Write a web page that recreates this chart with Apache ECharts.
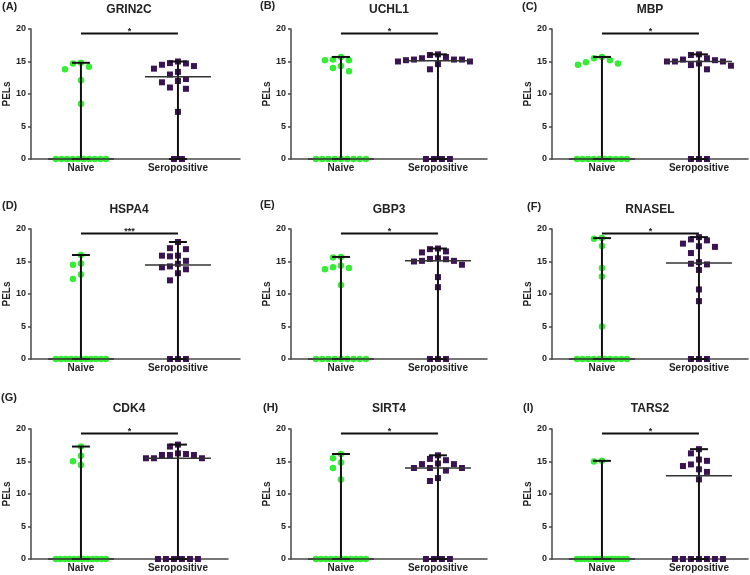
<!DOCTYPE html>
<html>
<head>
<meta charset="utf-8">
<script src="https://cdn.jsdelivr.net/npm/echarts@6/dist/echarts.min.js"></script>
<style>
html,body{margin:0;padding:0;background:#fff;}
#chart{width:750px;height:575px;}
</style>
</head>
<body>
<div id="chart"></div>
<script>
// ---------- DATA ----------
const categories = ['Naive', 'Seropositive'];
const genes = ['GRIN2C', 'UCHL1', 'MBP', 'HSPA4', 'GBP3', 'RNASEL', 'CDK4', 'SIRT4', 'TARS2'];
const panelLetters = ['(A)', '(B)', '(C)', '(D)', '(E)', '(F)', '(G)', '(H)', '(I)'];
const sigLabels = ['*', '*', '*', '***', '*', '*', '*', '*', '*'];
const yTickMin = 0, yTickMax = 20, yTickStep = 5;
const sigLevel = 19.3;

const grin2cNaive = [14.8, 14.7, 14.2, 13.8, 12.1, 8.5, 0, 0, 0, 0, 0, 0, 0, 0, 0, 0];
const grin2cSero  = [15.0, 14.75, 14.7, 14.5, 14.3, 13.9, 13.4, 13.0, 12.3, 12.0, 11.8, 11.0, 10.8, 7.25, 0, 0];
const uchl1Naive  = [15.7, 15.3, 15.2, 15.2, 14.3, 14.0, 13.5, 0, 0, 0, 0, 0, 0, 0, 0, 0];
const uchl1Sero   = [16.1, 16.0, 15.7, 15.5, 15.3, 15.3, 15.3, 15.2, 15.0, 15.0, 14.6, 13.8, 0, 0, 0, 0];
const mbpNaive    = [15.7, 15.5, 15.2, 14.9, 14.7, 14.5, 0, 0, 0, 0, 0, 0, 0, 0, 0, 0];
const mbpSero     = [16.1, 16.0, 15.5, 15.3, 15.2, 15.0, 15.0, 15.0, 14.7, 14.45, 14.35, 13.8, 0, 0, 0];
const hspa4Naive  = [16.0, 14.7, 14.5, 13.0, 12.3, 0, 0, 0, 0, 0, 0, 0, 0, 0, 0, 0];
const hspa4Sero   = [18.0, 17.05, 16.9, 15.9, 15.9, 15.8, 15.1, 14.65, 14.25, 14.1, 13.8, 13.2, 12.1, 0, 0, 0];
const gbp3Naive   = [15.7, 15.6, 14.4, 14.1, 14.0, 13.8, 11.4, 0, 0, 0, 0, 0, 0, 0, 0, 0];
const gbp3Sero    = [17.0, 16.9, 16.55, 16.4, 15.5, 15.4, 15.35, 15.1, 15.1, 15.0, 14.5, 12.6, 11.05, 0, 0, 0];
const rnaselNaive = [18.6, 18.5, 17.4, 14.0, 12.7, 5.0, 0, 0, 0, 0, 0, 0, 0, 0, 0, 0];
const rnaselSero  = [18.75, 18.4, 18.25, 17.75, 17.35, 17.25, 16.3, 14.9, 14.65, 14.55, 13.7, 10.7, 8.9, 0, 0, 0];
const cdk4Naive   = [17.3, 15.9, 15.05, 14.45, 0, 0, 0, 0, 0, 0, 0, 0, 0, 0, 0, 0];
const cdk4Sero    = [17.6, 17.3, 16.25, 16.15, 16.0, 16.0, 16.0, 15.5, 15.5, 15.5, 0, 0, 0, 0, 0, 0];
const sirt4Naive  = [16.15, 15.5, 14.85, 14.0, 12.25, 0, 0, 0, 0, 0, 0, 0, 0, 0, 0, 0];
const sirt4Sero   = [15.95, 15.4, 15.2, 14.7, 14.6, 14.6, 14.0, 14.0, 14.0, 13.6, 12.45, 12.0, 0, 0, 0, 0];
const tars2Naive  = [15.1, 15.0, 0, 0, 0, 0, 0, 0, 0, 0, 0, 0, 0, 0, 0, 0];
const tars2Sero   = [16.9, 16.25, 15.3, 15.1, 14.55, 14.3, 13.8, 13.4, 12.25, 0, 0, 0, 0, 0, 0, 0];

const naiveGroups = [grin2cNaive, uchl1Naive, mbpNaive, hspa4Naive, gbp3Naive, rnaselNaive, cdk4Naive, sirt4Naive, tars2Naive];
const seroGroups  = [grin2cSero, uchl1Sero, mbpSero, hspa4Sero, gbp3Sero, rnaselSero, cdk4Sero, sirt4Sero, tars2Sero];

// ---------- LAYOUT ----------
const colLeft = [31, 291, 552];
const rowTop = [29, 229, 429];
const panelWidth = [209, 196, 196, 209, 196, 196, 197, 196, 196];
const gridH = 130;
const pxPerUnitX = 97;
const xMin = 0.485;
const titleTop = [4, 4, 4, 204, 204, 204, 403, 403, 403];
const letterPos = [[2, 1], [260, 0], [522, 1], [2, 200], [260, 199], [527, 201], [1, 392], [263, 402], [523, 402]];

const FONT = '"Liberation Sans", Arial, sans-serif';
const GREEN = '#33EE33';
const PURPLE = '#3A1352';

function median(arr) {
  const s = arr.slice().sort((a, b) => a - b);
  const n = s.length;
  return n % 2 ? s[(n - 1) / 2] : (s[n / 2 - 1] + s[n / 2]) / 2;
}

// beeswarm spread (pixel based), returns [x, y] pairs in data units
function swarm(vals, center, pxY) {
  const out = [];
  const zeros = vals.filter(v => v === 0);
  const nz = vals.filter(v => v !== 0).sort((a, b) => b - a);
  const n = zeros.length;
  const step0 = n > 1 ? Math.min(8, 50 / (n - 1)) : 0;
  zeros.forEach((v, i) => out.push([center + ((i - (n - 1) / 2) * step0) / pxPerUnitX, 0]));
  const placed = [];
  const step = 8, minD = 7.8;
  const order = [0, -1, 1, -2, 2, -3, 3, -4, 4, -5, 5];
  nz.forEach(v => {
    const y = v * pxY;
    for (const k of order) {
      const x = k * step;
      let ok = true;
      for (const p of placed) {
        const dx = p[0] - x, dy = p[1] - y;
        if (dx * dx + dy * dy < minD * minD) { ok = false; break; }
      }
      if (ok) { placed.push([x, y]); out.push([center + x / pxPerUnitX, v]); return; }
    }
    placed.push([0, y]); out.push([center, v]);
  });
  return out;
}

const grids = [], xAxes = [], yAxes = [], series = [], titles = [];

genes.forEach((gene, i) => {
  const col = i % 3, row = Math.floor(i / 3);
  const L = colLeft[col], T = rowTop[row], W = panelWidth[i];
  grids.push({ left: L, top: T, width: W, height: gridH, containLabel: false });
  xAxes.push({
    gridIndex: i, type: 'value', min: xMin, max: xMin + W / pxPerUnitX,
    axisLine: { show: true, onZero: false, lineStyle: { color: '#4a4a4a', width: 1.5 } },
    axisTick: { show: false },
    splitLine: { show: false },
    axisLabel: {
      customValues: [1, 2],
      formatter: v => (Math.abs(v - 1) < 1e-6 ? categories[0] : Math.abs(v - 2) < 1e-6 ? categories[1] : ''),
      fontFamily: FONT, fontWeight: 'bold', fontSize: 10, color: '#222', margin: 4
    }
  });
  yAxes.push({
    gridIndex: i, type: 'value', min: yTickMin, max: yTickMax, interval: yTickStep,
    name: 'PELs', nameLocation: 'middle', nameGap: 17,
    nameTextStyle: { fontFamily: FONT, fontWeight: 'bold', fontSize: 10, color: '#222' },
    axisLine: { show: true, lineStyle: { color: '#4a4a4a', width: 1.5 } },
    axisTick: { show: true, length: 3, lineStyle: { color: '#4a4a4a', width: 1.5 } },
    splitLine: { show: false },
    axisLabel: { fontFamily: FONT, fontWeight: 'bold', fontSize: 9, color: '#222', margin: 5 }
  });
  const pxY = gridH / (yTickMax - yTickMin);
  const groups = [naiveGroups[i], seroGroups[i]];
  groups.forEach((vals, g) => {
    series.push({
      type: 'scatter', xAxisIndex: i, yAxisIndex: i, z: 2,
      symbol: g === 0 ? 'circle' : 'rect', symbolSize: g === 0 ? 6.5 : 6,
      itemStyle: { color: g === 0 ? GREEN : PURPLE, opacity: 1 },
      data: swarm(vals, g + 1, pxY), silent: true, clip: false
    });
  });
  const stats = groups.map((vals, g) => [g + 1, Math.min(...vals), median(vals), Math.max(...vals)]);
  series.push({
    type: 'custom', xAxisIndex: i, yAxisIndex: i, z: 5, silent: true, clip: false,
    data: stats,
    renderItem: (params, api) => {
      const x = api.value(0);
      const pMin = api.coord([x, api.value(1)]);
      const pMed = api.coord([x, api.value(2)]);
      const pMax = api.coord([x, api.value(3)]);
      const black = { stroke: '#111', lineWidth: 2 };
      return {
        type: 'group', children: [
          { type: 'line', shape: { x1: pMin[0], y1: pMin[1], x2: pMax[0], y2: pMax[1] }, style: black },
          { type: 'line', shape: { x1: pMax[0] - 9, y1: pMax[1], x2: pMax[0] + 9, y2: pMax[1] }, style: black },
          { type: 'line', shape: { x1: pMin[0] - 9, y1: pMin[1], x2: pMin[0] + 9, y2: pMin[1] }, style: black },
          { type: 'line', shape: { x1: pMed[0] - 33, y1: pMed[1], x2: pMed[0] + 33, y2: pMed[1] }, style: { stroke: '#333', lineWidth: 1.5 } }
        ]
      };
    }
  });
  series.push({
    type: 'custom', xAxisIndex: i, yAxisIndex: i, z: 5, silent: true, clip: false,
    data: [[1, 2, sigLevel]],
    renderItem: (params, api) => {
      const a = api.coord([api.value(0), api.value(2)]);
      const b = api.coord([api.value(1), api.value(2)]);
      return {
        type: 'group', children: [
          { type: 'line', shape: { x1: a[0], y1: a[1], x2: b[0], y2: b[1] }, style: { stroke: '#111', lineWidth: 2 } },
          { type: 'text', style: { x: (a[0] + b[0]) / 2, y: a[1] - 2, text: sigLabels[i], align: 'center', verticalAlign: 'middle', font: 'bold 9px ' + FONT, fill: '#222' } }
        ]
      };
    }
  });
  titles.push({
    text: gene, left: L + 98, top: titleTop[i], textAlign: 'center',
    textStyle: { fontFamily: FONT, fontWeight: 'bold', fontSize: 12, color: '#222' }, padding: 0
  });
  titles.push({
    text: panelLetters[i], left: letterPos[i][0], top: letterPos[i][1],
    textStyle: { fontFamily: FONT, fontWeight: 'bold', fontSize: 11, color: '#222' }, padding: 0
  });
});

const chart = echarts.init(document.getElementById('chart'), null, { renderer: 'canvas' });
chart.setOption({
  animation: false,
  backgroundColor: '#fff',
  title: titles,
  grid: grids,
  xAxis: xAxes,
  yAxis: yAxes,
  series: series
});
</script>
</body>
</html>
